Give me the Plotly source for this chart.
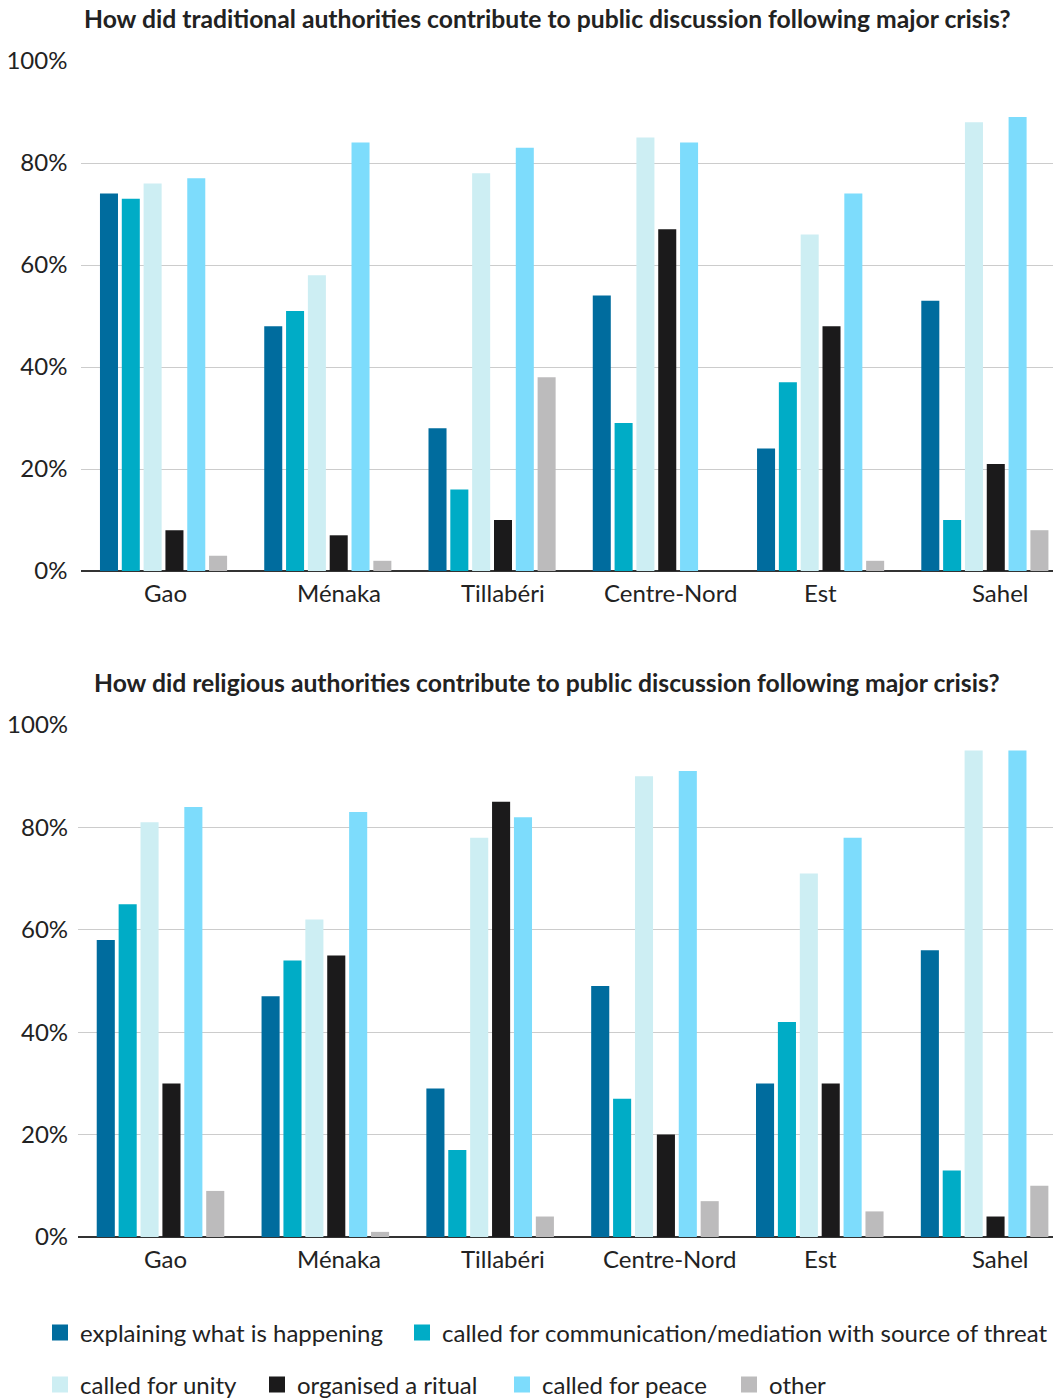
import plotly.graph_objects as go

regions = ["Gao", "Ménaka", "Tillabéri", "Centre-Nord", "Est", "Sahel"]
series_names = ["explaining what is happening",
                "called for communication/mediation with source of threat",
                "called for unity", "organised a ritual", "called for peace", "other"]

# Traditional authorities (top chart), values in %
trad_explaining = [74, 48, 28, 54, 24, 53]
trad_communication = [73, 51, 16, 29, 37, 10]
trad_unity = [76, 58, 78, 85, 66, 88]
trad_ritual = [8, 7, 10, 67, 48, 21]
trad_peace = [77, 84, 83, 84, 74, 89]
trad_other = [3, 2, 38, 0, 2, 8]

# Religious authorities (bottom chart), values in %
rel_explaining = [58, 47, 29, 49, 30, 56]
rel_communication = [65, 54, 17, 27, 42, 13]
rel_unity = [81, 62, 78, 90, 71, 95]
rel_ritual = [30, 55, 85, 20, 30, 4]
rel_peace = [84, 83, 82, 91, 78, 95]
rel_other = [9, 1, 4, 7, 5, 10]

y_ticks = [0, 20, 40, 60, 80, 100]
y_ticktext = ["0%", "20%", "40%", "60%", "80%", "100%"]

title_top = "How did traditional authorities contribute to public discussion following major crisis?"
title_bottom = "How did religious authorities contribute to public discussion following major crisis?"

colors = ["#006c9e", "#00acc6", "#cdeef3", "#1b1a1b", "#7ddcfc", "#bcbbbc"]

trad = [trad_explaining, trad_communication, trad_unity, trad_ritual, trad_peace, trad_other]
rel = [rel_explaining, rel_communication, rel_unity, rel_ritual, rel_peace, rel_other]

# the page body has an 8px margin; the plot area runs slightly past the right window edge
OFF = 8
W, H = 1067 - OFF, 1399 - OFF
ML = 22
FONT = "Lato"
TXT = "#222222"

# legend layout: (legend id, screen x of the entry, screen y of the row)
legend_slots = [("legend", 40, 1333), ("legend2", 402, 1333),
                ("legend3", 40, 1385), ("legend4", 257, 1385),
                ("legend5", 502, 1385), ("legend6", 729, 1385)]

fig = go.Figure()
for i, name in enumerate(series_names):
    fig.add_trace(go.Bar(x=regions, y=trad[i], name=name, marker=dict(color=colors[i], line=dict(width=0)),
                         xaxis="x", yaxis="y", showlegend=False))
for i, name in enumerate(series_names):
    fig.add_trace(go.Bar(x=regions, y=rel[i], name=name, marker=dict(color=colors[i], line=dict(width=0)),
                         xaxis="x2", yaxis="y2", showlegend=False))
# legend entries (square swatches)
for i, name in enumerate(series_names):
    fig.add_trace(go.Scatter(x=[None], y=[None], mode="markers", name=name,
                             marker=dict(symbol="square", size=17, color=colors[i]),
                             xaxis="x2", yaxis="y2", showlegend=True,
                             legend=legend_slots[i][0]))

pw = W - ML
def xf(px):  # px: screen x in the reference
    return (px - OFF - ML) / pw
def yf(px):  # px: screen y in the reference
    return 1 - (px - OFF) / H

axis_common = dict(showgrid=False, showline=False, ticks="", showticklabels=False,
                   fixedrange=True, automargin=False)
yaxis_common = dict(range=[0, 100], tickvals=y_ticks, ticktext=y_ticktext, showgrid=True,
                    gridcolor="#cccccc", gridwidth=1, zeroline=True, zerolinecolor="#333333",
                    zerolinewidth=2, ticks="", automargin=False,
                    fixedrange=True, tickfont=dict(family=FONT, size=24, color=TXT))

legend_common = dict(orientation="h", xanchor="left", yanchor="middle",
                     font=dict(family=FONT, size=24, color=TXT), itemwidth=30,
                     bgcolor="rgba(0,0,0,0)", traceorder="normal", itemsizing="trace")

layout_legends = {lid: dict(x=xf(lx), y=yf(ly), **legend_common) for lid, lx, ly in legend_slots}

fig.update_layout(
    width=W, height=H,
    margin=dict(l=ML, r=0, t=0, b=0, autoexpand=False),
    paper_bgcolor="white", plot_bgcolor="white",
    barmode="group", bargap=0.203, bargroupgap=0.174,
    font=dict(family=FONT, color=TXT),
    xaxis=dict(domain=[xf(81.4), 1], anchor="y", **axis_common),
    yaxis=dict(domain=[yf(571), yf(61)], anchor="x", ticklabelstandoff=13, **yaxis_common),
    xaxis2=dict(domain=[xf(78.1), 1], anchor="y2", **axis_common),
    yaxis2=dict(domain=[yf(1237), yf(725)], anchor="x2", ticklabelstandoff=9, **yaxis_common),
    showlegend=True,
    **layout_legends,
)

# chart titles
for t, ypx in [(title_top, 19), (title_bottom, 682)]:
    fig.add_annotation(text="<b>" + t + "</b>", x=xf(547), y=yf(ypx), xref="paper", yref="paper",
                       xanchor="center", yanchor="middle", showarrow=False,
                       font=dict(family=FONT, size=24.7, color=TXT))

# category labels (slightly offset as in the original)
label_shift_top = [1.5, 11, 11, 14, 0, 15.5]
label_shift_bottom = [4.5, 13.5, 13, 15, 0.5, 15.5]
for xa, ya, shifts in [("x", "y domain", label_shift_top), ("x2", "y2 domain", label_shift_bottom)]:
    for r, s in zip(regions, shifts):
        fig.add_annotation(text=r, x=r, xref=xa, y=0, yref=ya, yanchor="top", yshift=-5,
                           xshift=s, showarrow=False, xanchor="center",
                           font=dict(family=FONT, size=24, color=TXT))

fig.write_html("out.html")
